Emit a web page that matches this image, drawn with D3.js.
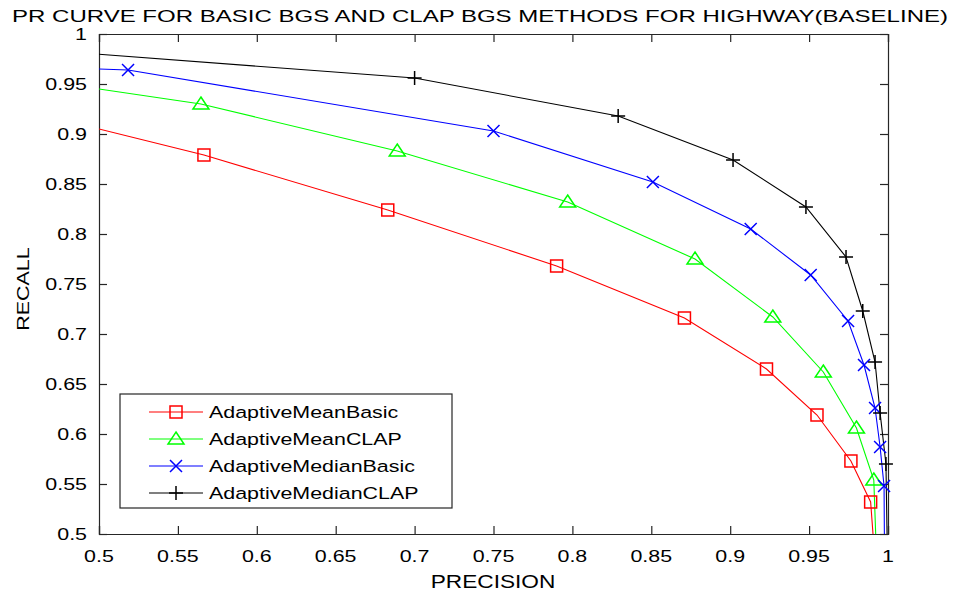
<!DOCTYPE html>
<html><head><meta charset="utf-8">
<script src="https://cdn.jsdelivr.net/npm/d3@7"></script>
<style>body{margin:0;background:#fff}svg{display:block}text{font-family:"Liberation Sans",Arial,sans-serif;fill:#000}</style>
</head><body><svg id="c" width="953" height="592"></svg>
<script>
const titleText = "PR CURVE FOR BASIC BGS AND CLAP BGS METHODS FOR HIGHWAY(BASELINE)";
const xLabel = "PRECISION", yLabel = "RECALL";
const xTicks = [0.5,0.55,0.6,0.65,0.7,0.75,0.8,0.85,0.9,0.95,1];
const yTicks = [0.5,0.55,0.6,0.65,0.7,0.75,0.8,0.85,0.9,0.95,1];
const names = ["AdaptiveMeanBasic","AdaptiveMeanCLAP","AdaptiveMedianBasic","AdaptiveMedianCLAP"];
const colors = ["#ff0000","#00ff00","#0000ff","#000000"];
const symbols = ["square","triangle","x","plus"];
// marker points (precision, recall)
const meanBasicP = [0.5665,0.683,0.790,0.871,0.923,0.955,0.9765,0.989];
const meanBasicR = [0.879,0.824,0.768,0.716,0.665,0.619,0.573,0.532];
const meanClapP = [0.5646,0.689,0.797,0.8777,0.927,0.959,0.980,0.991];
const meanClapR = [0.930,0.883,0.832,0.775,0.717,0.662,0.606,0.554];
const medBasicP = [0.5184,0.750,0.851,0.913,0.951,0.9747,0.9848,0.9918,0.995,0.9975];
const medBasicR = [0.964,0.903,0.852,0.805,0.759,0.713,0.669,0.626,0.587,0.548];
const medClapP = [0.700,0.829,0.9018,0.948,0.9734,0.984,0.9918,0.995,0.9987];
const medClapR = [0.956,0.918,0.874,0.827,0.777,0.723,0.672,0.621,0.570];
// curve ends (not marked): recall at precision 0.5, precision at recall 0.5
const startR = [0.905,0.945,0.965,0.9797];
const endP = [0.9905,0.9922,0.9977,0.9994];
const seriesP = [meanBasicP,meanClapP,medBasicP,medClapP];
const seriesR = [meanBasicR,meanClapR,medBasicR,medClapR];

const SX = 1.26;
const L=99,R=888,T=34,B=534;
const svg = d3.select("#c");
const x = d3.scaleLinear().domain([0.5,1]).range([L,R]);
const y = d3.scaleLinear().domain([0.5,1]).range([B,T]);
const fmt = d3.format("");
function stext(g, txt, px, py, anchor, size, extra){
  return g.append("text").attr("transform",`translate(${px},${py}) scale(${SX},1)${extra||""}`)
    .attr("text-anchor",anchor).attr("font-size",size).text(txt);
}
svg.append("defs").append("clipPath").attr("id","clip").append("rect")
  .attr("x",L).attr("y",T).attr("width",R-L).attr("height",B-T);

// axes with inward ticks
const axB = d3.axisBottom(x).tickValues(xTicks).tickSize(-8).tickFormat("");
const axT = d3.axisTop(x).tickValues(xTicks).tickSize(-8).tickFormat("");
const axLf = d3.axisLeft(y).tickValues(yTicks).tickSize(-8).tickFormat("");
const axRt = d3.axisRight(y).tickValues(yTicks).tickSize(-8).tickFormat("");
[[axB,`translate(0,${B})`],[axT,`translate(0,${T})`],[axLf,`translate(${L},0)`],[axRt,`translate(${R},0)`]].forEach(([a,t])=>{
  const g=svg.append("g").attr("transform",t).call(a);
  g.selectAll("path,line").attr("stroke","#262626").attr("stroke-width",1.2);
});
// tick labels
xTicks.forEach(v=>stext(svg,fmt(v),x(v),562,"middle",17));
yTicks.forEach(v=>stext(svg,fmt(v),87,y(v)+6,"end",17));
// title & labels
svg.append("text").attr("x",12).attr("y",22).attr("font-size",17)
  .attr("textLength",936).attr("lengthAdjust","spacingAndGlyphs").text(titleText);
stext(svg,xLabel,493,588,"middle",18);
svg.append("text").attr("transform",`translate(29,289) rotate(-90) scale(${SX},1)`)
  .attr("text-anchor","middle").attr("font-size",17).text(yLabel);

function marker(g, sym, cx, cy, col){
  if(sym==="square") g.append("rect").attr("x",cx-6).attr("y",cy-6).attr("width",12).attr("height",12)
    .attr("fill","none").attr("stroke",col).attr("stroke-width",1.5);
  else if(sym==="triangle") g.append("path").attr("d",`M${cx},${cy-7}L${cx+8},${cy+5}L${cx-8},${cy+5}Z`)
    .attr("fill","none").attr("stroke",col).attr("stroke-width",1.5);
  else if(sym==="x") g.append("path").attr("d",`M${cx-6},${cy-6}L${cx+6},${cy+6}M${cx-6},${cy+6}L${cx+6},${cy-6}`)
    .attr("stroke",col).attr("stroke-width",1.5);
  else g.append("path").attr("d",`M${cx-7},${cy}L${cx+7},${cy}M${cx},${cy-7}L${cx},${cy+7}`)
    .attr("stroke",col).attr("stroke-width",1.5);
}
const line = d3.line().x(d=>x(d[0])).y(d=>y(d[1]));
const plot = svg.append("g").attr("clip-path","url(#clip)");
seriesP.forEach((P,i)=>{
  const pts=[[0.5,startR[i]]].concat(P.map((p,j)=>[p,seriesR[i][j]])).concat([[endP[i],0.5]]);
  plot.append("path").datum(pts).attr("d",line).attr("fill","none").attr("stroke",colors[i]).attr("stroke-width",1.1);
});
seriesP.forEach((P,i)=>{
  P.forEach((p,j)=>marker(svg,symbols[i],x(p),y(seriesR[i][j]),colors[i]));
});
// legend
const lg = svg.append("g");
lg.append("rect").attr("x",120).attr("y",394).attr("width",332).attr("height",114)
  .attr("fill","#fff").attr("stroke","#262626").attr("stroke-width",1.2);
names.forEach((n,i)=>{
  const ry = 412 + i*27;
  lg.append("line").attr("x1",149).attr("x2",203).attr("y1",ry).attr("y2",ry).attr("stroke",colors[i]).attr("stroke-width",1.1);
  marker(lg,symbols[i],176,ry,colors[i]);
  stext(lg,n,209,ry+6,"start",17);
});
</script></body></html>
